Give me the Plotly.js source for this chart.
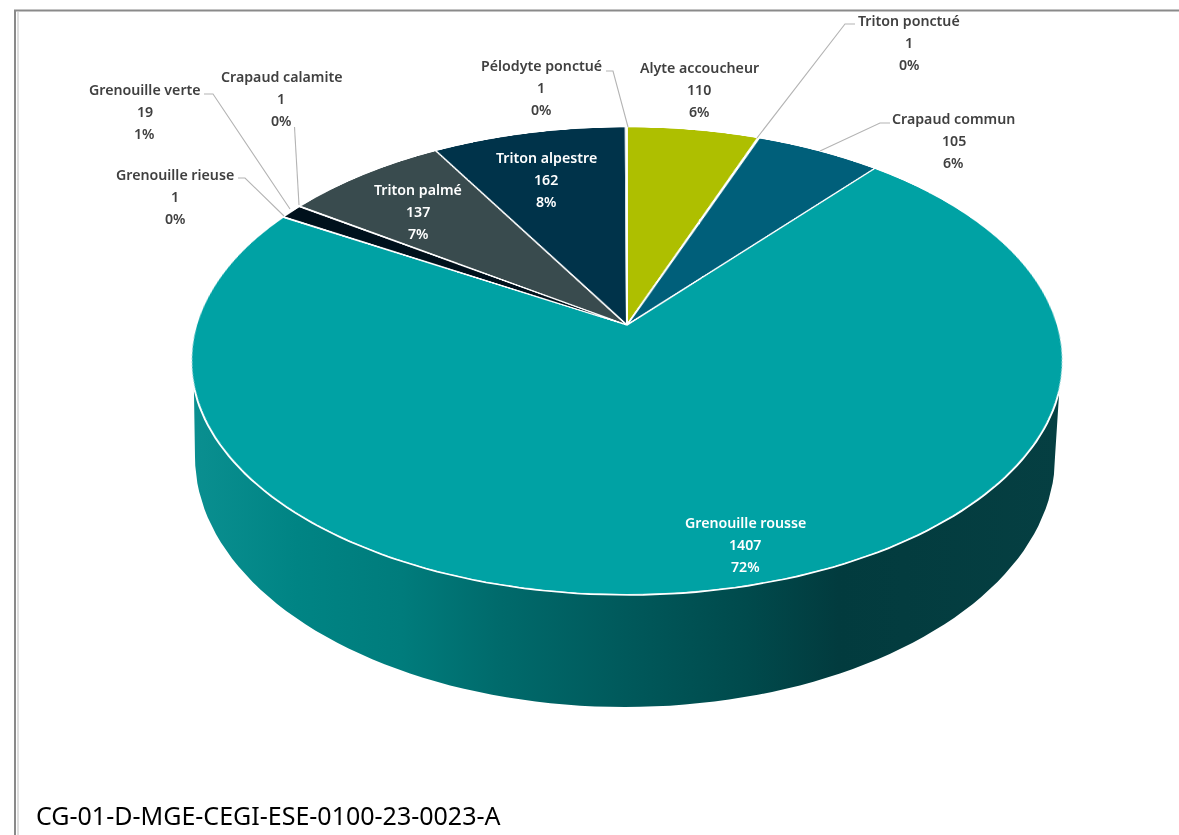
<!DOCTYPE html>
<html>
<head>
<meta charset="utf-8">
<script src="https://cdn.plot.ly/plotly-3.0.1.min.js"></script>
<style>
html,body{margin:0;padding:0;width:1179px;height:835px;overflow:hidden;background:#fff}
#pie,#overlay{position:absolute}
#overlay{left:0;top:0;width:1179px;height:835px;pointer-events:none}
</style>
</head>
<body>
<div id="pie"></div>
<div id="overlay"></div>
<script>
// ---- chart data ----
const species = ["Alyte accoucheur","Triton ponctué","Crapaud commun","Grenouille rousse","Grenouille rieuse","Grenouille verte","Crapaud calamite","Triton palmé","Triton alpestre","Pélodyte ponctué"];
const counts = [110,1,105,1407,1,19,1,137,162,1];
const percents = ["6%","0%","6%","72%","0%","1%","0%","7%","8%","0%"];
const sliceColors = ["#AEBF00","#7FA31A","#005F7A","#00A2A4","#00A2A4","#00111C","#394B4E","#394B4E","#00334A","#00334A"];
const footer = "CG-01-D-MGE-CEGI-ESE-0100-23-0023-A";

// ---- layout of the labels (centre x, first line y, colour) ----
const labelX = [699,909,953.5,745,175,144.5,281,418,546,541];
const labelY = [67,20,118,522,174,89,76,189,157,65];
const labelColor = ["#404040","#404040","#404040","#fff","#404040","#404040","#404040","#fff","#fff","#404040"];
const lineStep = 22.4;
const leaderLines = [
  [[855,24],[845,24],[757,138]],
  [[890,123],[880,123],[820,151]],
  [[238,178],[245,178],[284,216]],
  [[204,94],[213,94],[290,209]],
  [[294.5,127],[299,205]],
  [[606,71],[613,71],[628,127]]
];

// ---- perspective of the pie top: apex at (cx,cy), tilt k ----
const cx=627, cy=325, k=0.1538, H=228.5, Rx=430.8, r=431;
const pieEl=document.getElementById('pie');
pieEl.style.left=(cx-r)+'px'; pieEl.style.top=(cy-r)+'px';
pieEl.style.width=(2*r)+'px'; pieEl.style.height=(2*r)+'px';
pieEl.style.transformOrigin='50% 50%';
pieEl.style.transform=`matrix3d(${Rx/r},0,0,0, 0,${H/r},0,${-k/r}, 0,0,1,0, 0,0,0,1)`;

Plotly.newPlot(pieEl,[{
  type:'pie',labels:species,values:counts,sort:false,direction:'clockwise',rotation:0,
  textinfo:'none',hoverinfo:'label+value+percent',
  marker:{colors:sliceColors,line:{color:'#ffffff',width:2}},
  domain:{x:[0,1],y:[0,1]}
}],{width:2*r,height:2*r,margin:{l:0,r:0,t:0,b:0},showlegend:false,
  paper_bgcolor:'rgba(0,0,0,0)',plot_bgcolor:'rgba(0,0,0,0)'},{staticPlot:true,displayModeBar:false});

// ---- side wall of the drum ----
const seamX=[],seamY=[];
for(let a=254.7;a>=105.3;a-=1.5){
  const t=a*Math.PI/180,v=Math.cos(t),w=1+k*v;
  seamX.push(cx+Rx*Math.sin(t)/w); seamY.push(cy-H*v/w);
}
const wallX=[],wallY=[];
const lowCx=625,lowCy=457,lowA=430,lowB=250;
for(let a=0;a<=180;a+=2){
  const t=a*Math.PI/180;
  wallX.push(lowCx+lowA*Math.cos(t)); wallY.push(lowCy+lowB*Math.sin(t));
}
const wallPolyX=seamX.concat(wallX,[seamX[0]]), wallPolyY=seamY.concat(wallY,[seamY[0]]);

const traces=[{
  type:'scatter',mode:'lines',x:wallPolyX,y:wallPolyY,fill:'toself',hoverinfo:'skip',
  line:{width:0,color:'rgba(0,0,0,0)'},
  fillgradient:{type:'horizontal',colorscale:[
    [0,'#0A8F90'],[0.12,'#008484'],[0.24,'#007C7C'],[0.355,'#006A6B'],[0.5,'#00595B'],
    [0.64,'#004A4C'],[0.745,'#023B3E'],[0.82,'#033C3F'],[1,'#053F42']]}
},{
  type:'scatter',mode:'lines',x:seamX,y:seamY,hoverinfo:'skip',
  line:{color:'#ffffff',width:1.6}
}];
leaderLines.forEach(p=>traces.push({
  type:'scatter',mode:'lines',x:p.map(q=>q[0]),y:p.map(q=>q[1]),hoverinfo:'skip',
  line:{color:'#b4b4b4',width:1.1}
}));

const annotations=[];
species.forEach((name,i)=>{
  [name,String(counts[i]),percents[i]].forEach((txt,j)=>annotations.push({
    x:labelX[i],y:labelY[i]+j*lineStep,xref:'x',yref:'y',text:txt,showarrow:false,
    xanchor:'center',yanchor:'middle',
    font:{family:'"Noto Sans",sans-serif',size:14.2,weight:600,color:labelColor[i]}
  }));
});
annotations.push({x:34,y:815,xref:'x',yref:'y',text:footer,showarrow:false,xanchor:'left',yanchor:'middle',
  font:{family:'"Noto Sans",sans-serif',size:25,color:'#000000'}});

const borders=[
  {type:'line',xref:'x',yref:'y',x0:18,x1:18,y0:12,y1:835,line:{color:'#dedede',width:2}},
  {type:'line',xref:'x',yref:'y',x0:14,x1:1179,y0:10.5,y1:10.5,line:{color:'#8a8a8a',width:2}},
  {type:'line',xref:'x',yref:'y',x0:15,x1:15,y0:10,y1:835,line:{color:'#8a8a8a',width:2}}
];

Plotly.newPlot('overlay',traces,{
  width:1179,height:835,margin:{l:0,r:0,t:0,b:0},showlegend:false,
  paper_bgcolor:'rgba(0,0,0,0)',plot_bgcolor:'rgba(0,0,0,0)',
  xaxis:{range:[0,1179],visible:false,fixedrange:true},
  yaxis:{range:[835,0],visible:false,fixedrange:true},
  annotations:annotations,shapes:borders
},{staticPlot:true,displayModeBar:false});
</script>
</body>
</html>
